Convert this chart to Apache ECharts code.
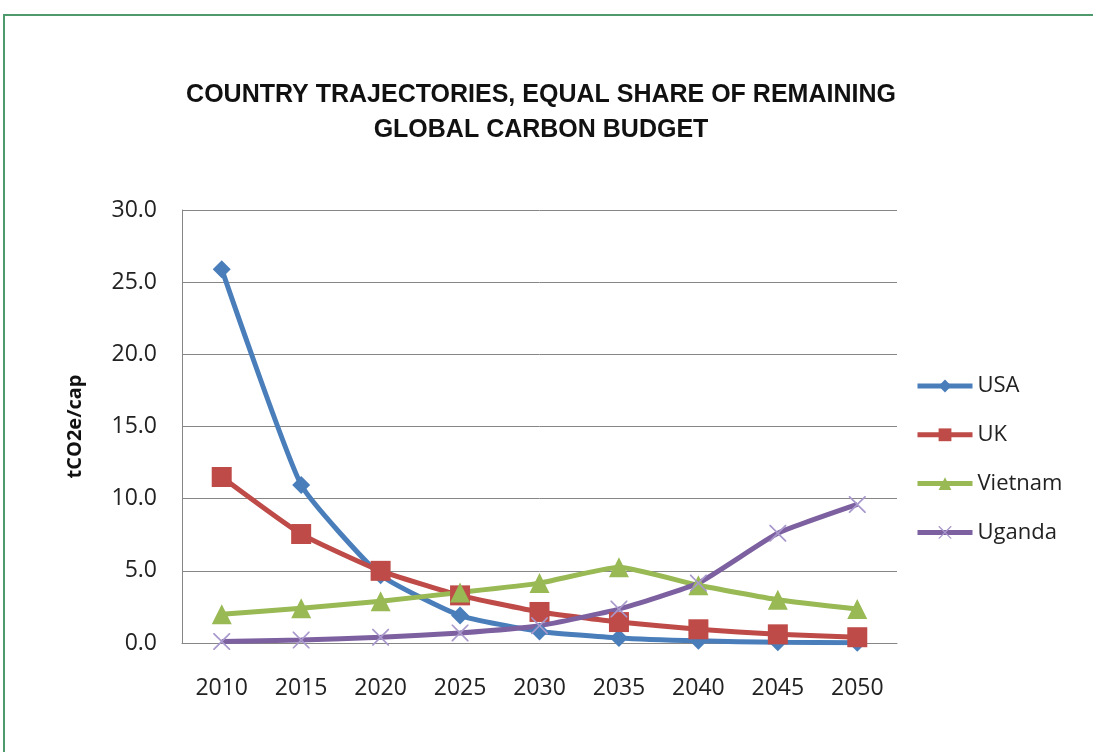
<!DOCTYPE html>
<html>
<head>
<meta charset="utf-8">
<script src="https://cdn.jsdelivr.net/npm/echarts@6/dist/echarts.min.js"></script>
<style>
  html, body { margin: 0; padding: 0; background: #fff; }
  #frame { position: absolute; left: 3px; top: 14px; width: 1200px; height: 900px;
           border-left: 2px solid #4f9a6c; border-top: 2px solid #4f9a6c; }
  #chart { position: absolute; left: 0; top: 0; width: 1093px; height: 752px; }
</style>
</head>
<body>
<div id="frame"></div>
<div id="chart"></div>
<script>
  // years on the x axis
  var years = ['2010', '2015', '2020', '2025', '2030', '2035', '2040', '2045', '2050'];
  // tCO2e per capita
  var usa     = [25.9, 10.95, 4.7, 1.9, 0.8, 0.35, 0.15, 0.05, 0.02];
  var uk      = [11.5, 7.55, 5.0, 3.3, 2.15, 1.45, 0.95, 0.6, 0.4];
  var vietnam = [2.0, 2.4, 2.9, 3.5, 4.15, 5.25, 4.0, 3.0, 2.35];
  var uganda  = [0.1, 0.2, 0.4, 0.7, 1.2, 2.35, 4.15, 7.6, 9.6];

  var crossPath = 'path://M0,0L0.7,0L5,4.3L9.3,0L10,0L10,0.7L5.7,5L10,9.3L10,10L9.3,10L5,5.7L0.7,10L0,10L0,9.3L4.3,5L0,0.7Z';
  var labelFont = '"Open Sans", sans-serif';

  var myChart = echarts.init(document.getElementById('chart'), null, { renderer: 'canvas' });

  function lineSeries(name, data, color, symbol, size, symColor) {
    return {
      name: name,
      type: 'line',
      data: data,
      smooth: 0.15,
      symbol: symbol,
      symbolSize: size,
      lineStyle: { color: color, width: 5 },
      itemStyle: { color: symColor || color },
      emphasis: { disabled: true }
    };
  }

  myChart.setOption({
    animation: false,
    title: {
      text: 'COUNTRY TRAJECTORIES, EQUAL SHARE OF REMAINING\nGLOBAL CARBON BUDGET',
      left: 536,
      top: 73,
      textAlign: 'center',
      textStyle: { fontSize: 25, fontWeight: 'bold', color: '#111', lineHeight: 35,
                   fontFamily: '"Liberation Sans", Arial, sans-serif' }
    },
    legend: {
      orient: 'vertical',
      left: 910,
      top: 370,
      itemWidth: 55,
      itemHeight: 16,
      itemGap: 26.8,
      lineStyle: { width: 5 },
      textStyle: { fontSize: 22, color: '#222', fontFamily: labelFont },
      data: ['USA', 'UK', 'Vietnam', 'Uganda']
    },
    grid: { left: 182, right: 196, top: 210, bottom: 109 },
    xAxis: {
      type: 'category',
      data: years,
      boundaryGap: true,
      axisLine: { lineStyle: { color: '#868686', width: 1 } },
      axisTick: { show: false },
      axisLabel: { fontSize: 23, color: '#222', margin: 34, fontFamily: labelFont }
    },
    yAxis: {
      type: 'value',
      min: 0,
      max: 30,
      interval: 5,
      name: 'tCO2e/cap',
      nameLocation: 'middle',
      nameGap: 97,
      nameTextStyle: { fontSize: 20, fontWeight: 'bold', color: '#111', fontFamily: labelFont },
      axisLine: { show: true, lineStyle: { color: '#868686', width: 1 } },
      axisTick: { show: false },
      splitLine: { lineStyle: { color: '#868686', width: 1 } },
      axisLabel: {
        fontSize: 23, color: '#222', margin: 25, fontFamily: labelFont,
        formatter: function (v) { return v.toFixed(1); }
      }
    },
    series: [
      lineSeries('USA', usa, '#4a7ebb', 'diamond', 18),
      lineSeries('UK', uk, '#be4b48', 'rect', 20),
      lineSeries('Vietnam', vietnam, '#98b954', 'triangle', 20),
      lineSeries('Uganda', uganda, '#7d60a0', crossPath, 17, '#a898cc')
    ]
  });
</script>
</body>
</html>
